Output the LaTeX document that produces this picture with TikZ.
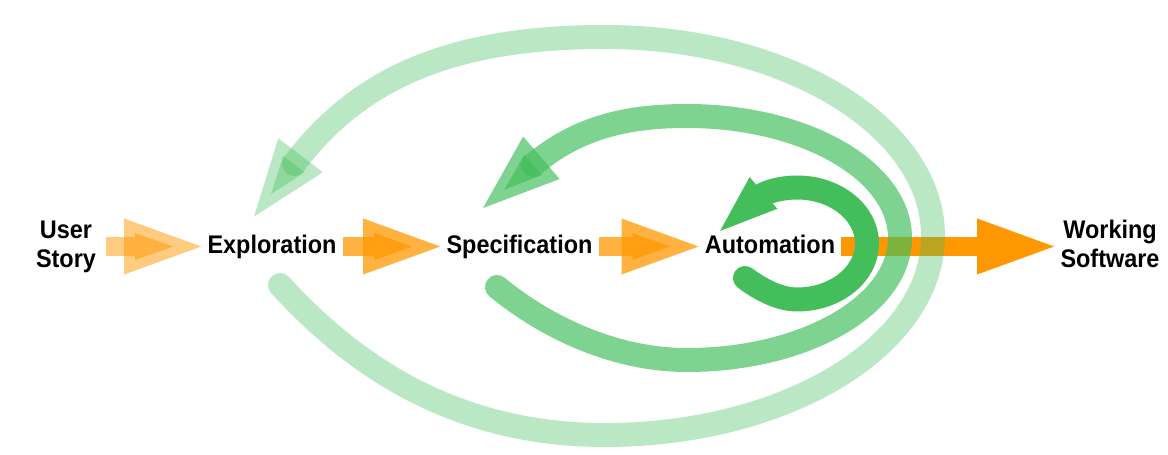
\documentclass[tikz,border=0pt]{standalone}
\usepackage{fontspec}
\usepackage{tikz}
\newfontfamily\stagefont{Liberation Sans}[FakeStretch=0.92]
\definecolor{Amber}{RGB}{255,152,0}
\definecolor{Leaf}{RGB}{67,190,91}
\tikzstyle{stage} = [font=\stagefont\bfseries\fontsize{14.5}{16.4}\selectfont, inner sep=0pt, inner xsep=0.12cm, text height=0.37cm, text depth=0.08cm]
\tikzstyle{ends} = [font=\stagefont\bfseries\fontsize{14.5}{16.4}\selectfont, align=center, inner sep=0pt, inner xsep=0.12cm]
\tikzstyle{flow} = [draw=Amber, line width=0.38cm, shorten >=1.32cm]
\tikzstyle{backloop} = [draw=Leaf, line width=0.48cm, line cap=round]
\tikzset{heads/.pic={
	\fill (0, 0) -- (-77, 28) -- (-77, -28) -- cycle;
	\fill (-28, 0) -- (-66, 13.5) -- (-66, -13.5) -- cycle;
}}

\begin{document}
\begin{tikzpicture}[x=0.02cm, y=-0.02cm]
			\useasboundingbox (0, 0) rectangle (1168, 455);

			\node (User) [ends, inner xsep=0.2cm] at (66, 246.5) {User\\Story};
			\node (Expl) [stage] at (272, 246.5) {Exploration};
			\node (Spec) [stage] at (519.5, 246.5) {Specification};
			\node (Auto) [stage] at (770, 246.5) {Automation};
			\node (Work) [ends] at (1110, 244) {Working\\Software};

			\draw [flow, draw opacity=0.5] (User.east) -- (User.east -| Expl.west);
			\pic [fill=Amber, fill opacity=0.5] at (User.east -| Expl.west) {heads};
			\draw [flow, draw opacity=0.75] (Expl.east) -- (Expl.east -| Spec.west);
			\pic [fill=Amber, fill opacity=0.75] at (Expl.east -| Spec.west) {heads};
			\draw [flow, draw opacity=0.75] (Spec.east) -- (Spec.east -| Auto.west);
			\pic [fill=Amber, fill opacity=0.75] at (Spec.east -| Auto.west) {heads};
			\draw [flow] (Auto.east) -- (Auto.east -| Work.west);
			\pic [fill=Amber] at (Auto.east -| Work.west) {heads};

			\coordinate (OuterStart) at (280, 285);
			\coordinate (OuterEnd) at (294, 164);
			\coordinate (OuterTip) at (254, 216.6);
			\draw [backloop, draw opacity=0.36] (OuterStart) .. controls (354, 366) and (455, 435) .. (605, 435) arc [start angle=90, end angle=-90, x radius=328, y radius=199] .. controls (455, 37) and (360, 76) .. (OuterEnd);
			\pic [fill=Leaf, fill opacity=0.36, rotate=-127.2] at (OuterTip) {heads};

			\coordinate (MiddleStart) at (497, 287);
			\coordinate (MiddleEnd) at (533, 165);
			\coordinate (MiddleTip) at (483, 208);
			\draw [backloop, draw opacity=0.68] (MiddleStart) .. controls (543, 325) and (612, 360) .. (687, 360) arc [start angle=90, end angle=-90, x radius=213, y radius=122] .. controls (630, 116) and (579, 126) .. (MiddleEnd);
			\pic [fill=Leaf, fill opacity=0.68, rotate=-139.3] at (MiddleTip) {heads};

			\coordinate (InnerStart) at (745, 278);
			\coordinate (InnerEnd) at (758, 198);
			\coordinate (InnerTip) at (720, 231);
			\draw [backloop] (InnerStart) .. controls (761, 290) and (780, 299.5) .. (797, 299.5) arc [start angle=90, end angle=-90, x radius=70, y radius=56] .. controls (782, 187.5) and (765, 191.5) .. (InnerEnd);
			\pic [fill=Leaf, scale=0.75, rotate=-138.8] at (InnerTip) {heads};
		\end{tikzpicture}
\end{document}
